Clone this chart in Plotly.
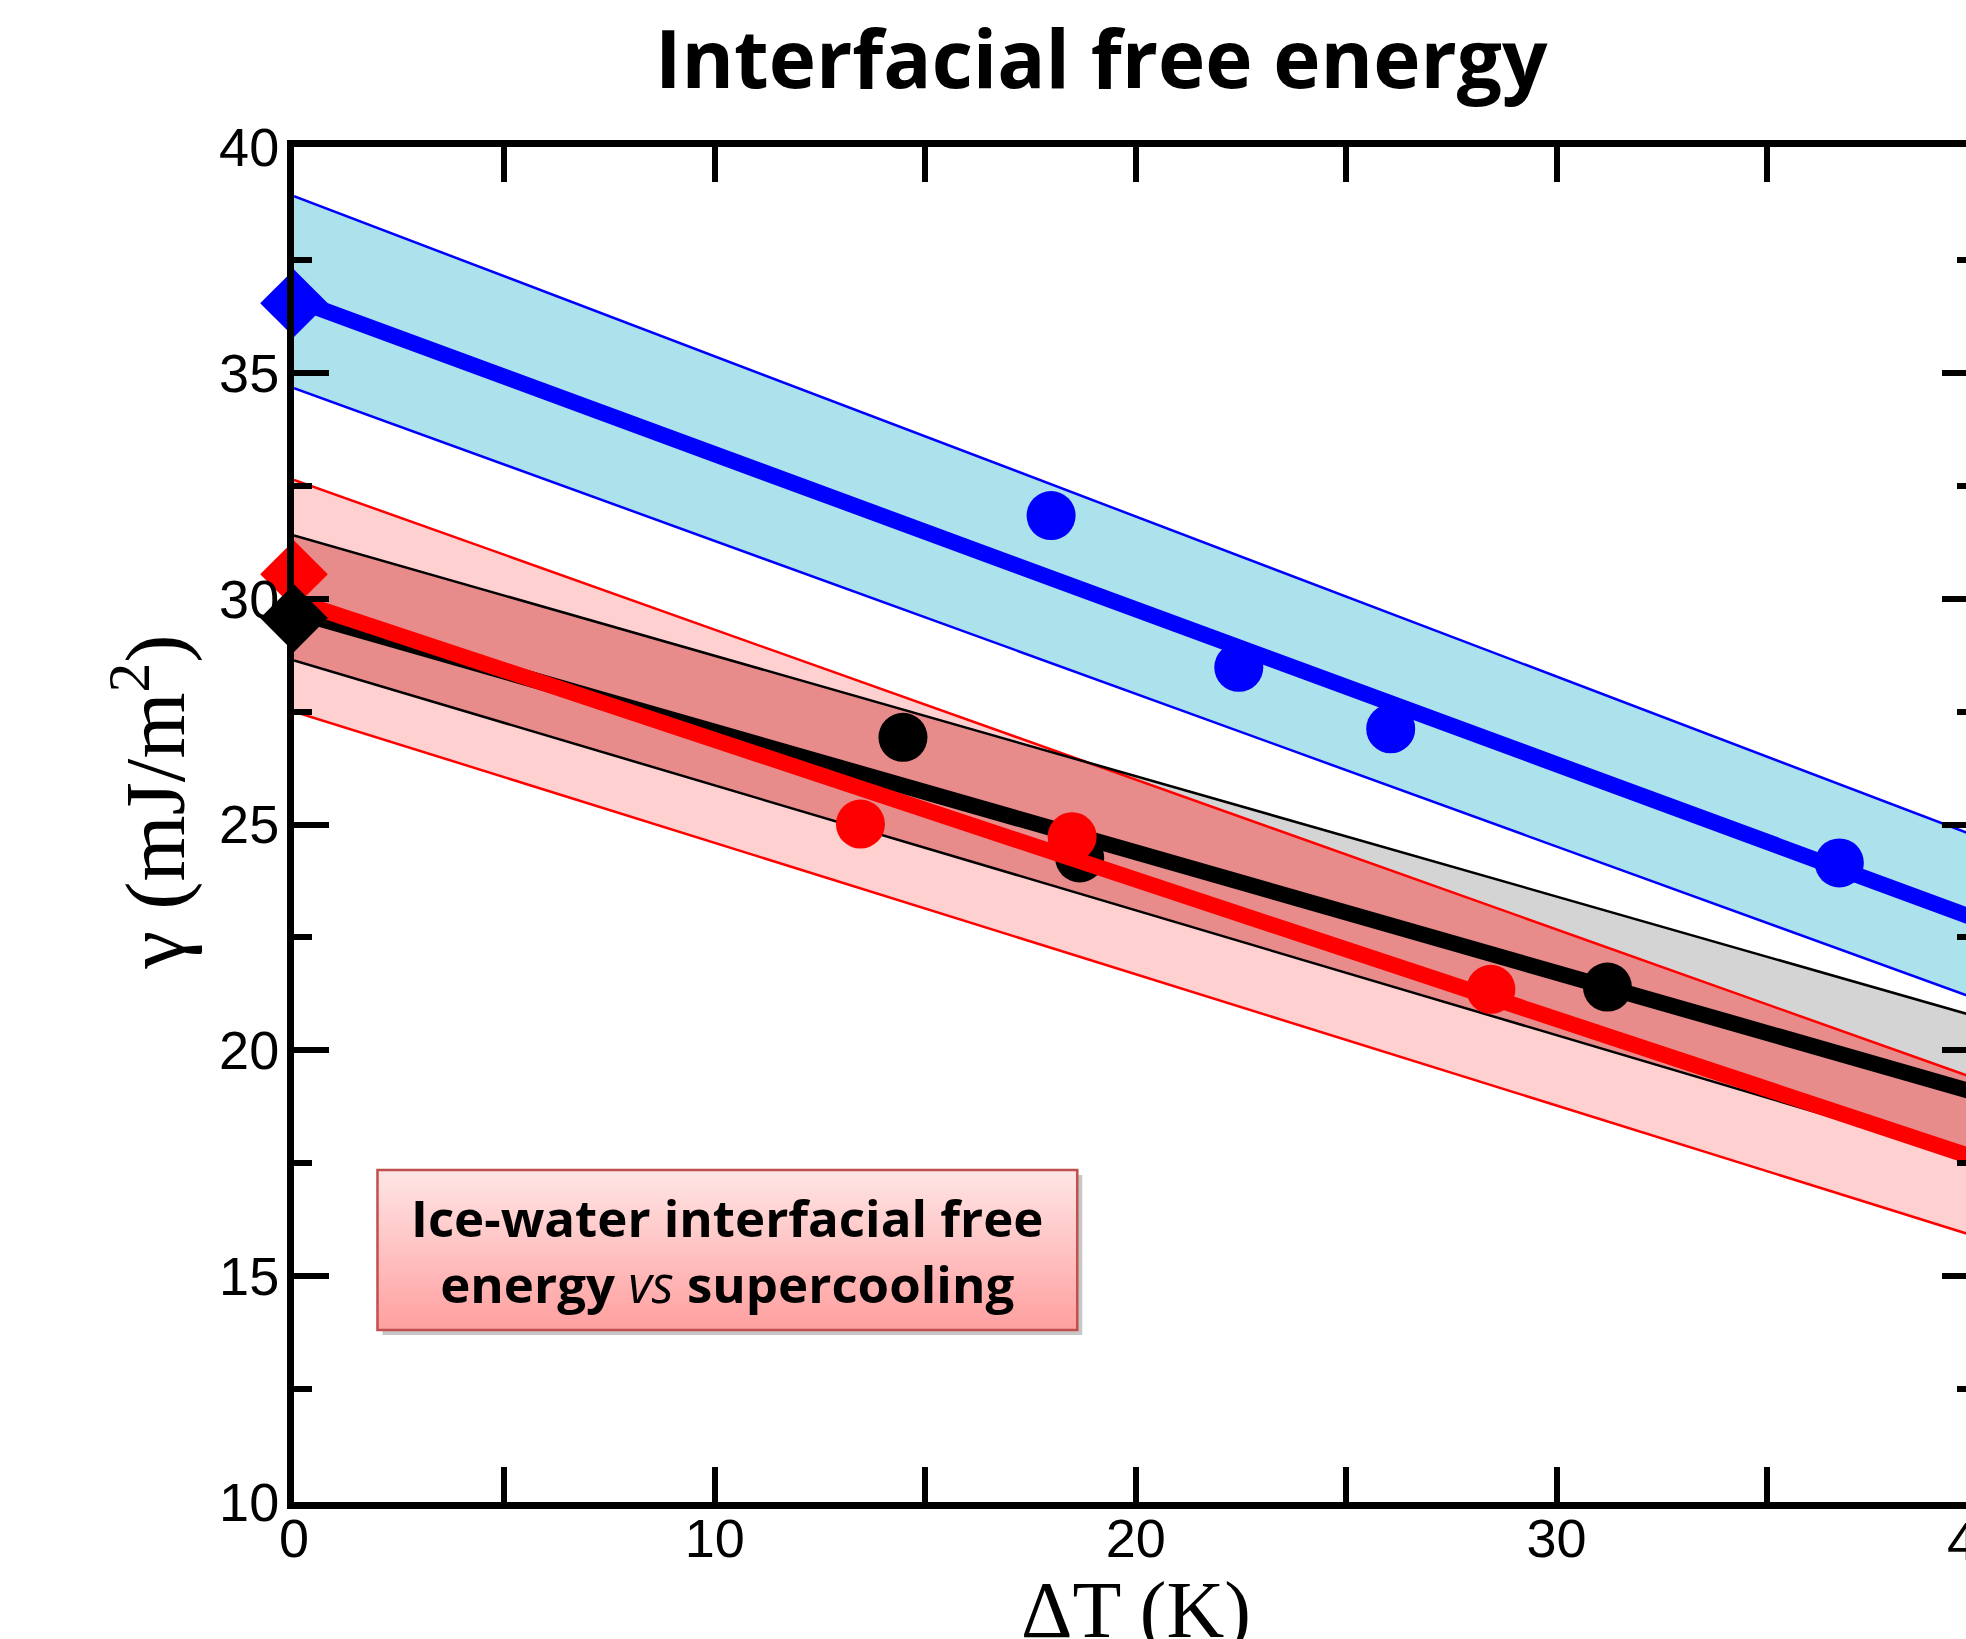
import numpy as np
import plotly.graph_objects as go

# ---------------- data ----------------
dT_ends = [0, 40]
blue_fit = [36.63, 22.90]
blue_hi = [38.91, 24.73]
blue_lo = [34.66, 21.13]
black_fit = [29.72, 19.05]
black_hi = [31.40, 20.74]
black_lo = [28.63, 17.57]
red_fit = [29.96, 17.60]
red_hi = [32.63, 19.36]
red_lo = [27.50, 15.87]

blue_x = [17.99, 22.45, 26.06, 36.72]
blue_y = [31.84, 28.48, 27.12, 24.15]
black_x = [14.47, 18.67, 31.21]
black_y = [26.93, 24.26, 21.40]
red_x = [13.46, 18.49, 28.44]
red_y = [25.01, 24.73, 21.35]

blue_dia_x, blue_dia_y = [0], [36.54]
red_dia_x, red_dia_y = [0], [30.54]
black_dia_x, black_dia_y = [0], [29.57]

x_ticks = [0, 10, 20, 30, 40]
y_ticks = [10, 15, 20, 25, 30, 35, 40]

title_text = "Interfacial free energy"
box_text = "<b>Ice-water interfacial free</b><br><b>energy </b><i>vs</i><b> supercooling</b>"
x_title = "ΔT (K)"
y_title = "γ (mJ/m<sup>2</sup>)"

# ---------------- layout constants ----------------
W, H = 1966, 1639
ML, MT, MB = 293.5, 146.7, 137
XMAX = 39.73

BLUE_FILL = "#ACE2EC"
PINK_FILL = "#FFD0D0"
GREY_FILL = "#D4D4D4"
OVER_FILL = "#E88B8B"

xs = np.linspace(dT_ends[0], dT_ends[1], 401)
def band(v):
    return np.interp(xs, dT_ends, v)

fig = go.Figure()

def add_fill(hi, lo, color):
    fig.add_trace(go.Scatter(
        x=np.concatenate([xs, xs[::-1]]),
        y=np.concatenate([hi, lo[::-1]]),
        fill="toself", fillcolor=color, mode="lines",
        line=dict(width=0, color=color), hoverinfo="skip", showlegend=False))

add_fill(band(blue_hi), band(blue_lo), BLUE_FILL)
add_fill(band(red_hi), band(red_lo), PINK_FILL)
add_fill(band(black_hi), band(black_lo), GREY_FILL)
add_fill(np.minimum(band(red_hi), band(black_hi)),
         np.maximum(band(red_lo), band(black_lo)), OVER_FILL)

def add_line(y, color, width, yaxis="y", opacity=1.0):
    fig.add_trace(go.Scatter(x=dT_ends, y=y, mode="lines", yaxis=yaxis,
                             opacity=opacity,
                             line=dict(color=color, width=width),
                             hoverinfo="skip", showlegend=False))

for y in (blue_hi, blue_lo):
    add_line(y, "#0000FF", 2.5)
for y in (red_hi, red_lo):
    add_line(y, "#FF0000", 2.5)
for y in (black_hi, black_lo):
    add_line(y, "#000000", 2.5)

def add_pts(x, y, color, symbol, size, clip=True):
    fig.add_trace(go.Scatter(x=x, y=y, mode="markers", cliponaxis=clip,
                             marker=dict(color=color, symbol=symbol, size=size,
                                         line=dict(width=0)),
                             showlegend=False))

add_line(blue_fit, "#0000FF", 16)
add_pts(blue_x, blue_y, "#0000FF", "circle", 49)
add_line(black_fit, "#000000", 16)
add_pts(black_x, black_y, "#000000", "circle", 49)
add_line(red_fit, "#FF0000", 16)
add_pts(red_x, red_y, "#FF0000", "circle", 49)
add_pts(blue_dia_x, blue_dia_y, "#0000FF", "diamond", 52, clip=False)
add_pts(red_dia_x, red_dia_y, "#FF0000", "diamond", 52, clip=False)
add_pts(black_dia_x, black_dia_y, "#000000", "diamond", 52, clip=False)

# invisible trace so that the right-hand tick axis is rendered
add_line(blue_fit, "rgba(0,0,0,0)", 0.1, yaxis="y2", opacity=0)

tickfont = dict(family="Liberation Sans, Arial, sans-serif", size=54, color="black")

fig.update_layout(
    width=W, height=H,
    margin=dict(l=ML, r=0, t=MT, b=MB, pad=0),
    paper_bgcolor="white", plot_bgcolor="white",
    showlegend=False,
    title=dict(text=f"<b>{title_text}</b>", x=0.4828, xref="paper", xanchor="center",
               y=1 - 60 / H, yref="container", yanchor="middle",
               font=dict(family="Open Sans, sans-serif", size=80, color="black")),
    xaxis=dict(range=[0, XMAX], tickvals=x_ticks, ticktext=[str(v) for v in x_ticks],
               ticks="inside", ticklen=35, tickwidth=6, tickcolor="black",
               minor=dict(dtick=5, tick0=0, ticks="inside", ticklen=18, tickwidth=6,
                          tickcolor="black", showgrid=False),
               showline=True, linewidth=7, linecolor="black", mirror="allticks",
               showgrid=False, zeroline=False, tickfont=tickfont, ticklabelstandoff=-17),
    yaxis=dict(range=[10, 40], tickvals=y_ticks, ticktext=[str(v) for v in y_ticks],
               ticks="inside", ticklen=35, tickwidth=6, tickcolor="black",
               minor=dict(dtick=2.5, tick0=10, ticks="inside", ticklen=18, tickwidth=6,
                          tickcolor="black", showgrid=False),
               showline=True, linewidth=7, linecolor="black", mirror=False,
               showgrid=False, zeroline=False, tickfont=tickfont, ticklabelstandoff=-3),
    yaxis2=dict(range=[10, 40], overlaying="y", side="right", anchor="x",
                tickvals=y_ticks, ticks="inside", ticklen=24, tickwidth=6, tickcolor="black",
                minor=dict(dtick=2.5, tick0=10, ticks="inside", ticklen=9, tickwidth=6,
                           tickcolor="black", showgrid=False),
                showline=False, showticklabels=False, showgrid=False, zeroline=False),
)

# partially visible 40 tick label at the right edge (cropped in the original)
fig.add_annotation(text=str(x_ticks[-1]), xref="paper", yref="paper",
                   x=x_ticks[-1] / XMAX, y=0, xanchor="center", yanchor="top",
                   yshift=-7, showarrow=False, font=tickfont)

# axis titles
fig.add_annotation(text=x_title, xref="x", yref="paper", x=20, y=0,
                   xanchor="center", yanchor="top", yshift=-62, showarrow=False,
                   font=dict(family="Liberation Serif, Times New Roman, serif", size=80,
                             color="black"))
fig.add_annotation(text=y_title, xref="paper", yref="y", x=0, y=25,
                   xanchor="center", yanchor="middle", xshift=-145, yshift=22,
                   textangle=-90, showarrow=False,
                   font=dict(family="Liberation Serif, Times New Roman, serif", size=85,
                             color="black"))

# text box with vertical gradient, border and shadow
PW = W - ML
PH = H - MT - MB
bx0, bx1 = (377 - ML) / PW, (1077 - ML) / PW
by_top, by_bot = (H - MB - 1170) / PH, (H - MB - 1330) / PH
sx, sy = 5 / PW, 5 / PH
fig.add_shape(type="rect", xref="paper", yref="paper",
              x0=bx0 + sx, x1=bx1 + sx, y0=by_bot - sy, y1=by_top - sy,
              fillcolor="rgba(0,0,0,0.22)", line=dict(width=0), layer="above")
n = 40
top_c = np.array([255, 230, 230])
bot_c = np.array([255, 160, 160])
for i in range(n):
    f = (i + 0.5) / n
    c = top_c + (bot_c - top_c) * f
    ya = by_top - (by_top - by_bot) * i / n
    yb = by_top - (by_top - by_bot) * (i + 1) / n
    fig.add_shape(type="rect", xref="paper", yref="paper",
                  x0=bx0, x1=bx1, y0=yb, y1=ya + 0.0005,
                  fillcolor=f"rgb({int(c[0])},{int(c[1])},{int(c[2])})",
                  line=dict(width=0), layer="above")
fig.add_shape(type="rect", xref="paper", yref="paper",
              x0=bx0, x1=bx1, y0=by_bot, y1=by_top,
              fillcolor="rgba(0,0,0,0)", line=dict(color="#C0504D", width=2.5),
              layer="above")
fig.add_annotation(text=box_text, xref="paper", yref="paper",
                   x=(bx0 + bx1) / 2, y=(by_top + by_bot) / 2,
                   xanchor="center", yanchor="middle", showarrow=False,
                   font=dict(family="Open Sans, sans-serif", size=51, color="black"))

fig.write_html("out.html")
